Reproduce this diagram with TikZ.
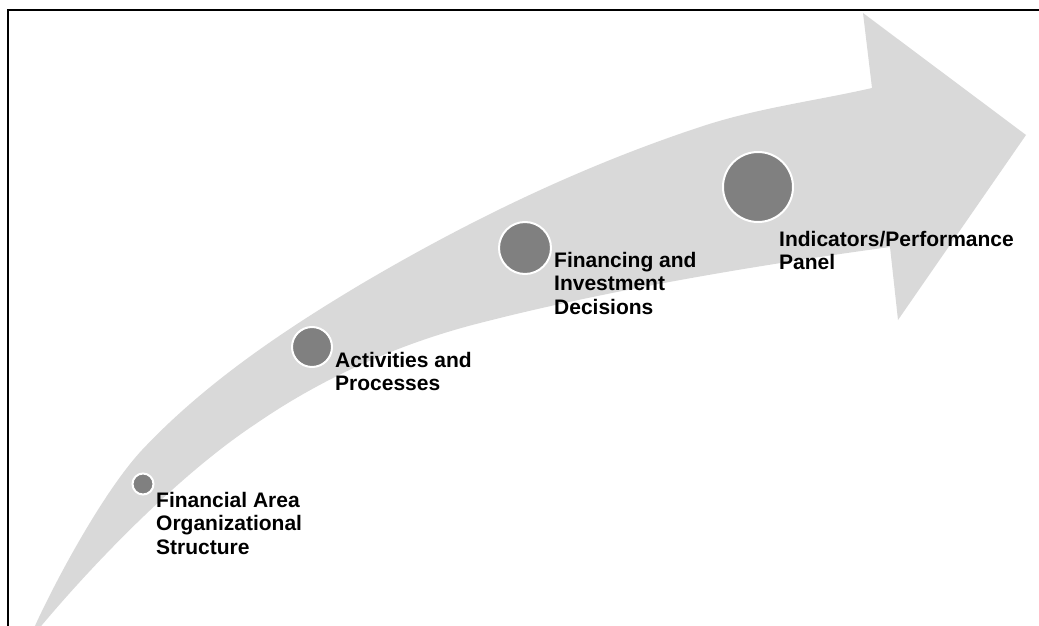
\documentclass[tikz,border=0pt]{standalone}
\usepackage{fontspec}
\setmainfont{Liberation Sans}
\definecolor{arrowgray}{HTML}{D9D9D9}
\definecolor{dotgray}{HTML}{808080}
\begin{document}
\begin{tikzpicture}[x=1pt,y=-1pt,
  dot/.style={circle,fill=dotgray,draw=white,line width=2pt,inner sep=0pt},
  lbl/.style={anchor=base west,align=left,inner sep=0pt,font=\bfseries\fontsize{21}{23.5}\selectfont},
  frameline/.style={line width=2pt,draw=black}]
\useasboundingbox (0,0) rectangle (1039,626);
\clip (0,0) rectangle (1039,626);
% curved arrow
\fill[arrowgray] (28,642)
  .. controls (45,600) and (100,495) .. (142,450)
  .. controls (205,383) and (284,330) .. (363,283)
  .. controls (470,220) and (582,166) .. (700,127)
  .. controls (757,108) and (815,101) .. (872,88)
  -- (863,13) -- (1026,135) -- (898,320) -- (890,247)
  .. controls (750,266) and (600,292) .. (480,323)
  .. controls (401,343) and (324,377) .. (257,423)
  .. controls (172,479) and (78,580) .. (28,642) -- cycle;
% frame (top and left edges)
\coordinate (fbl) at (7.5,626);
\coordinate (ftl) at (7.5,10.5);
\coordinate (ftr) at (1039,10.5);
\draw[frameline] (fbl) -- (ftl) -- (ftr);
% dots
\node[dot,minimum size=21pt] (c1) at (143,484) {};
\node[dot,minimum size=40pt] (c2) at (312,347) {};
\node[dot,minimum size=52pt] (c3) at (525,248) {};
\node[dot,minimum size=70pt] (c4) at (758,187) {};
% labels (base = baseline of last line)
\node[lbl] (t1) at (156,554) {Financial Area\\Organizational\\Structure};
\node[lbl] (t2) at (335,390.5) {Activities and\\Processes};
\node[lbl] (t3) at (554,314) {Financing and\\Investment\\Decisions};
\node[lbl] (t4) at (779,269.5) {Indicators/Performance\\Panel};
\end{tikzpicture}
\end{document}
